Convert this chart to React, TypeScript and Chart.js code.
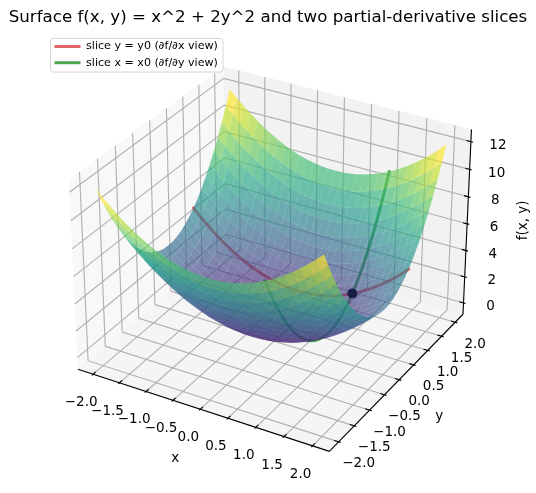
import React, { useEffect, useRef } from "react";
import { Chart, registerables } from "chart.js";

Chart.register(...registerables);

const titleText = "Surface f(x, y) = x^2 + 2y^2 and two partial-derivative slices";
const redLabel = "slice y = y0 (∂f/∂x view)";
const greenLabel = "slice x = x0 (∂f/∂y view)";

const gridX = [-2, -1.867, -1.733, -1.6, -1.467, -1.333, -1.2, -1.067, -0.933, -0.8, -0.667, -0.533, -0.4, -0.267, -0.133, 0, 0.133, 0.267, 0.4, 0.533, 0.667, 0.8, 0.933, 1.067, 1.2, 1.333, 1.467, 1.6, 1.733, 1.867, 2];
const gridY = gridX;
// surface height contributed by x and by y at each grid position
const heightFromX = [4, 3.484, 3.004, 2.56, 2.151, 1.778, 1.44, 1.138, 0.871, 0.64, 0.444, 0.284, 0.16, 0.071, 0.018, 0, 0.018, 0.071, 0.16, 0.284, 0.444, 0.64, 0.871, 1.138, 1.44, 1.778, 2.151, 2.56, 3.004, 3.484, 4];
const heightFromY = [8, 6.969, 6.009, 5.12, 4.302, 3.556, 2.88, 2.276, 1.742, 1.28, 0.889, 0.569, 0.32, 0.142, 0.036, 0, 0.036, 0.142, 0.32, 0.569, 0.889, 1.28, 1.742, 2.276, 2.88, 3.556, 4.302, 5.12, 6.009, 6.969, 8];

const sliceY0 = 0.8;
const sliceX0 = 1;
const redZ = [5.28, 4.764, 4.284, 3.84, 3.431, 3.058, 2.72, 2.418, 2.151, 1.92, 1.724, 1.564, 1.44, 1.351, 1.298, 1.28, 1.298, 1.351, 1.44, 1.564, 1.724, 1.92, 2.151, 2.418, 2.72, 3.058, 3.431, 3.84, 4.284, 4.764, 5.28];
const greenZ = [9, 7.969, 7.009, 6.12, 5.302, 4.556, 3.88, 3.276, 2.742, 2.28, 1.889, 1.569, 1.32, 1.142, 1.036, 1, 1.036, 1.142, 1.32, 1.569, 1.889, 2.28, 2.742, 3.276, 3.88, 4.556, 5.302, 6.12, 7.009, 7.969, 9];
const markerPoint = [1, 0.8, 2.28];

const xTicks = [-2, -1.5, -1, -0.5, 0, 0.5, 1, 1.5, 2];
const yTicks = [-2, -1.5, -1, -0.5, 0, 0.5, 1, 1.5, 2];
const zTicks = [0, 2, 4, 6, 8, 10, 12];

const XY_LIM = 2.2917;
const Z_MIN = -0.875;
const Z_MAX = 12.875;
const COLOR_MIN = 0.027;
const COLOR_MAX = 11.226;
const SURFACE_ALPHA = 0.65;

const viridis = [[68, 1, 84], [72, 36, 117], [65, 68, 135], [53, 95, 141], [42, 120, 142], [33, 145, 140], [34, 168, 132], [68, 191, 112], [122, 209, 81], [189, 223, 38], [253, 231, 37]];

const W = 536;
const H = 493;
const K = 2420;
const CX = 274;
const CY = 249.7;
const TITLE_TOP = 7.4;
const TITLE_BOTTOM = 8;
const TITLE_SIZE = 16.67;
const CHART_TOP = TITLE_TOP + TITLE_BOTTOM + TITLE_SIZE * 1.2;

const U = [0.866025, 0.5, 0];
const V = [-0.25, 0.433013, 0.866025];
const WV = [0.433013, -0.75, 0.5];
const BOX = [1.1905, 1.1905, 0.8929];

function project(x: number, y: number, z: number) {
  const p = [
    (x / (2 * XY_LIM)) * BOX[0],
    (y / (2 * XY_LIM)) * BOX[1],
    ((z - (Z_MIN + Z_MAX) / 2) / (Z_MAX - Z_MIN)) * BOX[2],
  ];
  const dot = (a: number[]) => a[0] * p[0] + a[1] * p[1] + a[2] * p[2];
  const depth = dot(WV);
  const d = 10 - depth;
  return { x: dot(U) / d, y: dot(V) / d, depth };
}

function pixelOf(x: number, y: number, z: number) {
  const q = project(x, y, z);
  return { x: CX + K * q.x, y: CY - K * q.y };
}

function viridisColor(t: number, alpha: number) {
  const f = Math.min(Math.max(t, 0), 1) * (viridis.length - 1);
  const i = Math.min(Math.floor(f), viridis.length - 2);
  const m = f - i;
  const c = viridis[i].map((v, k) => Math.round(v + (viridis[i + 1][k] - v) * m));
  return `rgba(${c[0]},${c[1]},${c[2]},${alpha})`;
}

const lineSet = (pts: number[][], color: string, width: number, extra: any = {}) => ({
  label: "",
  data: pts.map((p) => {
    const q = project(p[0], p[1], p[2]);
    return { x: q.x, y: q.y };
  }),
  showLine: true,
  fill: false,
  borderColor: color,
  backgroundColor: color,
  borderWidth: width,
  pointRadius: 0,
  clip: false as any,
  ...extra,
});

const polygon = (pts: number[][], color: string) =>
  lineSet(pts, color, 0, { fill: "shape", backgroundColor: color, borderColor: "rgba(0,0,0,0)" });

function buildDatasets() {
  const L = XY_LIM;
  const painted: any[] = [];
  painted.push(polygon([[-L, -L, Z_MIN], [-L, L, Z_MIN], [-L, L, Z_MAX], [-L, -L, Z_MAX]], "rgba(242,242,242,0.5)"));
  painted.push(polygon([[-L, L, Z_MIN], [L, L, Z_MIN], [L, L, Z_MAX], [-L, L, Z_MAX]], "rgba(230,230,230,0.5)"));
  painted.push(polygon([[-L, -L, Z_MIN], [L, -L, Z_MIN], [L, L, Z_MIN], [-L, L, Z_MIN]], "rgba(236,236,236,0.5)"));

  const GRID = "rgb(176,176,176)";
  const GW = 1.11;
  xTicks.forEach((t) => painted.push(lineSet([[t, -L, Z_MIN], [t, L, Z_MIN], [t, L, Z_MAX]], GRID, GW)));
  yTicks.forEach((t) => painted.push(lineSet([[L, t, Z_MIN], [-L, t, Z_MIN], [-L, t, Z_MAX]], GRID, GW)));
  zTicks.forEach((t) => painted.push(lineSet([[-L, -L, t], [-L, L, t], [L, L, t]], GRID, GW)));

  const AX = "rgb(0,0,0)";
  painted.push(lineSet([[-L, -L, Z_MIN], [L, -L, Z_MIN]], AX, 1.11));
  painted.push(lineSet([[L, -L, Z_MIN], [L, L, Z_MIN]], AX, 1.11));
  painted.push(lineSet([[L, L, Z_MIN], [L, L, Z_MAX]], AX, 1.11));
  const dxy = (2 * L) / 12;
  xTicks.forEach((t) => painted.push(lineSet([[t, -L - 0.1 * dxy, Z_MIN], [t, -L + 0.2 * dxy, Z_MIN]], AX, 1.11)));
  yTicks.forEach((t) => painted.push(lineSet([[L + 0.1 * dxy, t, Z_MIN], [L - 0.2 * dxy, t, Z_MIN]], AX, 1.11)));
  zTicks.forEach((t) => painted.push(lineSet([[L + 0.1 * dxy, L, t], [L - 0.2 * dxy, L, t]], AX, 1.11)));

  const green = lineSet(gridY.map((y, i) => [sliceX0, y, greenZ[i]]), "rgba(0,128,0,0.7)", 2.78, { label: greenLabel, borderCapStyle: "square" });
  const red = lineSet(gridX.map((x, i) => [x, sliceY0, redZ[i]]), "rgba(214,39,40,0.7)", 2.78, { label: redLabel, borderCapStyle: "square" });
  painted.push(green, red);

  const faces: any[] = [];
  for (let i = 0; i < gridX.length - 1; i++) {
    for (let j = 0; j < gridY.length - 1; j++) {
      const pts = [[i, j], [i + 1, j], [i + 1, j + 1], [i, j + 1]].map(([a, b]) => [gridX[a], gridY[b], heightFromX[a] + heightFromY[b]]);
      const meanZ = (pts[0][2] + pts[1][2] + pts[2][2] + pts[3][2]) / 4;
      const depth = pts.reduce((s, p) => s + project(p[0], p[1], p[2]).depth, 0) / 4;
      faces.push({ depth, set: polygon(pts, viridisColor((meanZ - COLOR_MIN) / (COLOR_MAX - COLOR_MIN), SURFACE_ALPHA)) });
    }
  }
  faces.sort((a, b) => a.depth - b.depth);
  faces.forEach((f) => painted.push(f.set));

  const m = project(markerPoint[0], markerPoint[1], markerPoint[2]);
  painted.push({
    label: "",
    data: [{ x: m.x, y: m.y }],
    showLine: false,
    pointRadius: 5,
    pointBackgroundColor: "rgb(26,28,72)",
    pointBorderWidth: 0,
    clip: false as any,
  });

  const total = painted.length;
  painted.forEach((d, i) => {
    d.order = total - i;
  });
  return { datasets: painted };
}

const fmt = (v: number) => (v < 0 ? "\u2212" + Math.abs(v).toFixed(1) : v.toFixed(1));

const overlay = {
  id: "overlay3d",
  beforeLayout(chart: any) {
    if (chart.legend) {
      chart.legend._layers = () => [{ z: 5, draw: (a: any) => chart.legend.draw(a) }];
    }
  },
  afterLayout(chart: any) {
    const lg = chart.legend;
    if (lg) {
      lg.left = 49.5;
      lg.right = 223;
      lg.top = 36;
      lg.bottom = 75;
    }
  },
  afterDatasetsDraw(chart: any) {
    const ctx = chart.ctx as CanvasRenderingContext2D;
    ctx.save();
    ctx.fillStyle = "#000";
    ctx.textAlign = "center";
    ctx.textBaseline = "middle";
    ctx.font = '13.5px "DejaVu Sans"';
    const L = XY_LIM;
    xTicks.forEach((t) => {
      const p = pixelOf(t, -L, Z_MIN);
      ctx.fillText(fmt(t), p.x - 12, p.y + 28.5);
    });
    yTicks.forEach((t) => {
      const p = pixelOf(L, t, Z_MIN);
      ctx.fillText(fmt(t), p.x + 20, p.y + 22);
    });
    zTicks.forEach((t) => {
      const p = pixelOf(L, L, t);
      ctx.fillText(String(t), p.x + 27, p.y + 4);
    });
    const xm = pixelOf(0, -L, Z_MIN);
    ctx.fillText("x", xm.x - 25, xm.y + 49);
    const ym = pixelOf(L, 0, Z_MIN);
    ctx.fillText("y", ym.x + 40, ym.y + 36.5);
    const zm = pixelOf(L, L, (Z_MIN + Z_MAX) / 2);
    ctx.translate(zm.x + 56, zm.y - 3.5);
    ctx.rotate(-Math.PI / 2);
    ctx.fillText("f(x, y)", 0, 0);
    ctx.restore();

    ctx.save();
    ctx.beginPath();
    ctx.roundRect(50.5, 38.5, 172.5, 33.5, 2.8);
    ctx.fillStyle = "rgba(255,255,255,0.8)";
    ctx.fill();
    ctx.strokeStyle = "rgb(214,214,214)";
    ctx.lineWidth = 1;
    ctx.stroke();
    ctx.restore();
  },
};

export default function App() {
  const ref = useRef<HTMLCanvasElement | null>(null);
  useEffect(() => {
    document.body.style.margin = "0";
    const { datasets } = buildDatasets();
    const chart = new Chart(ref.current as HTMLCanvasElement, {
      type: "scatter",
      data: { datasets },
      plugins: [overlay],
      options: {
        responsive: false,
        animation: false,
        events: [],
        layout: { padding: 0, autoPadding: false },
        scales: {
          x: { type: "linear", display: false, bounds: "data", min: -CX / K, max: (W - CX) / K },
          y: { type: "linear", display: false, bounds: "data", min: (CY - H) / K, max: (CY - CHART_TOP) / K },
        },
        plugins: {
          filler: { drawTime: "beforeDatasetDraw" },
          tooltip: { enabled: false },
          title: {
            display: true,
            text: titleText,
            color: "#000",
            font: { family: "DejaVu Sans", size: TITLE_SIZE, weight: "normal" },
            padding: { top: TITLE_TOP, bottom: TITLE_BOTTOM },
          },
          legend: {
            display: true,
            position: "chartArea",
            align: "start",
            labels: {
              boxWidth: 26,
              boxHeight: 3,
              padding: 5,
              color: "#000",
              font: { family: "DejaVu Sans", size: 11.1 },
              generateLabels: () => [
                { text: redLabel, fillStyle: "rgba(214,39,40,0.7)", strokeStyle: "rgba(0,0,0,0)", lineWidth: 0, hidden: false, fontColor: "#000" },
                { text: greenLabel, fillStyle: "rgba(0,128,0,0.7)", strokeStyle: "rgba(0,0,0,0)", lineWidth: 0, hidden: false, fontColor: "#000" },
              ],
            },
          },
        },
      } as any,
    });
    return () => chart.destroy();
  }, []);
  return <canvas ref={ref} width={W} height={H} style={{ display: "block", width: W, height: H }} />;
}
